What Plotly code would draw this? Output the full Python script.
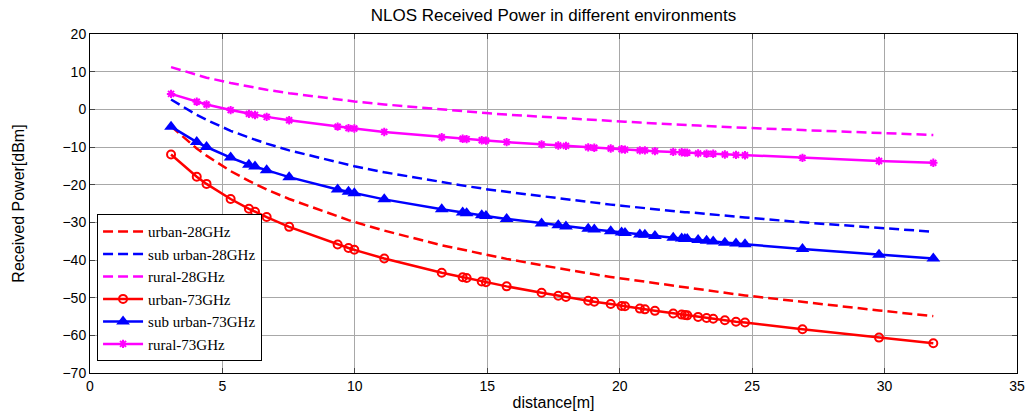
import plotly.graph_objects as go

distance = [3.06, 4.03, 4.40, 5.31, 6.0, 6.23, 6.67, 7.52, 9.35, 9.76, 9.98, 11.11,
            13.28, 14.07, 14.22, 14.79, 14.95, 15.73, 17.05, 17.68, 17.97, 18.81, 19.04,
            19.66, 20.07, 20.2, 20.76, 20.95, 21.33, 22.02, 22.34, 22.46, 22.55, 22.96,
            23.28, 23.53, 23.97, 24.39, 24.73, 26.9, 29.79, 31.84]

urban_28 = [-4.5, -10.4, -12.3, -16.4, -19.0, -19.8, -21.3, -23.8, -28.5, -29.4, -29.9, -32.2,
            -36.1, -37.3, -37.5, -38.4, -38.6, -39.7, -41.4, -42.2, -42.6, -43.5, -43.8,
            -44.5, -44.9, -45.1, -45.7, -45.9, -46.2, -46.9, -47.2, -47.4, -47.4, -47.8,
            -48.1, -48.4, -48.8, -49.1, -49.4, -51.2, -53.4, -54.9]

suburban_28 = [2.6, -1.5, -2.8, -5.7, -7.5, -8.1, -9.1, -10.9, -14.1, -14.8, -15.1, -16.7,
               -19.4, -20.3, -20.4, -21.0, -21.2, -21.9, -23.1, -23.7, -23.9, -24.6, -24.8,
               -25.3, -25.6, -25.7, -26.1, -26.2, -26.5, -27.0, -27.2, -27.3, -27.3, -27.6,
               -27.8, -28.0, -28.2, -28.5, -28.7, -30.0, -31.5, -32.5]

rural_28 = [11.2, 9.1, 8.4, 7.0, 6.0, 5.7, 5.2, 4.3, 2.6, 2.3, 2.1, 1.3,
            -0.1, -0.5, -0.6, -0.9, -1.0, -1.4, -2.0, -2.3, -2.4, -2.8, -2.9,
            -3.1, -3.3, -3.3, -3.5, -3.6, -3.7, -4.0, -4.1, -4.1, -4.2, -4.3,
            -4.4, -4.5, -4.6, -4.8, -4.9, -5.5, -6.3, -6.8]

urban_73 = [-12.0, -17.9, -19.8, -23.8, -26.4, -27.2, -28.6, -31.2, -35.9, -36.8, -37.3, -39.6,
            -43.4, -44.6, -44.8, -45.7, -45.9, -47.0, -48.7, -49.5, -49.8, -50.8, -51.1,
            -51.7, -52.2, -52.3, -52.9, -53.1, -53.5, -54.2, -54.5, -54.6, -54.7, -55.1,
            -55.4, -55.6, -56.0, -56.4, -56.6, -58.4, -60.6, -62.1]

suburban_73 = [-4.6, -8.7, -10.0, -12.8, -14.7, -15.2, -16.2, -18.0, -21.3, -21.9, -22.3, -23.9,
               -26.5, -27.4, -27.6, -28.1, -28.3, -29.1, -30.3, -30.8, -31.1, -31.7, -31.9,
               -32.4, -32.7, -32.8, -33.2, -33.3, -33.6, -34.1, -34.3, -34.4, -34.4, -34.7,
               -34.9, -35.1, -35.4, -35.6, -35.8, -37.1, -38.6, -39.6]

rural_73 = [4.1, 2.0, 1.3, -0.2, -1.2, -1.5, -2.0, -2.9, -4.6, -5.0, -5.1, -6.0,
            -7.4, -7.8, -7.9, -8.2, -8.3, -8.7, -9.3, -9.6, -9.7, -10.1, -10.2,
            -10.4, -10.6, -10.7, -10.9, -10.9, -11.1, -11.3, -11.4, -11.5, -11.5, -11.7,
            -11.8, -11.8, -12.0, -12.1, -12.2, -12.9, -13.7, -14.2]

x_ticks = [0, 5, 10, 15, 20, 25, 30, 35]
y_ticks = [20, 10, 0, -10, -20, -30, -40, -50, -60, -70]

RED, BLUE, MAG = "#ff0000", "#0000ff", "#ff00ff"
DASH = "10px,5px"

fig = go.Figure()
fig.add_trace(go.Scatter(x=distance, y=urban_28, mode="lines", name="urban-28GHz",
                         line=dict(color=RED, width=2.5, dash=DASH)))
fig.add_trace(go.Scatter(x=distance, y=suburban_28, mode="lines", name="sub urban-28GHz",
                         line=dict(color=BLUE, width=2.5, dash=DASH)))
fig.add_trace(go.Scatter(x=distance, y=rural_28, mode="lines", name="rural-28GHz",
                         line=dict(color=MAG, width=2.5, dash=DASH)))
fig.add_trace(go.Scatter(x=distance, y=urban_73, mode="lines+markers", name="urban-73GHz",
                         line=dict(color=RED, width=2.5),
                         marker=dict(symbol="circle-open", size=8, color=RED,
                                     line=dict(width=2, color=RED))))
fig.add_trace(go.Scatter(x=distance, y=suburban_73, mode="lines+markers", name="sub urban-73GHz",
                         line=dict(color=BLUE, width=2.5),
                         marker=dict(symbol="triangle-up", size=12, color=BLUE)))
fig.add_trace(go.Scatter(x=distance, y=rural_73, mode="lines+markers", name="rural-73GHz",
                         line=dict(color=MAG, width=2.5),
                         marker=dict(symbol="asterisk-open", size=7, color=MAG,
                                     line=dict(width=2, color=MAG))))

axis_font = dict(family="Liberation Sans Narrow, Liberation Sans, Arial", size=14, color="black")

fig.update_layout(
    width=1026, height=420,
    margin=dict(l=90, r=9, t=34, b=47, autoexpand=False),
    paper_bgcolor="white", plot_bgcolor="white",
    title=dict(text="NLOS Received Power in different environments",
               x=0.5, xref="paper", xanchor="center", y=0.963, yanchor="middle",
               font=dict(family="Liberation Sans, Arial", size=17, color="black")),
    showlegend=True,
    legend=dict(x=0.0076, y=0.035, xanchor="left", yanchor="bottom",
                bgcolor="white", bordercolor="black", borderwidth=1,
                font=dict(family="Liberation Serif, Times New Roman", size=15, color="black"),
                itemwidth=40, tracegroupgap=0),
    xaxis=dict(range=[0, 35], tickvals=x_ticks, ticks="inside", ticklen=5,
               showline=True, linecolor="black", linewidth=1, mirror="allticks",
               showgrid=True, gridcolor="#a8a8a8", gridwidth=1, zeroline=False,
               tickfont=axis_font, automargin=False,
               title=dict(text="distance[m]", font=dict(family="Liberation Sans Narrow, Liberation Sans, Arial", size=16, color="black"), standoff=4)),
    yaxis=dict(range=[-70, 20], tickvals=y_ticks, ticks="inside", ticklen=5,
               showline=True, linecolor="black", linewidth=1, mirror="allticks",
               showgrid=True, gridcolor="#a8a8a8", gridwidth=1, zeroline=False,
               tickfont=axis_font, automargin=False,
               title=dict(text="Received Power[dBm]", font=dict(family="Liberation Sans, Arial", size=16, color="black"), standoff=33)),
)

fig.write_html("out.html", post_script="document.body.style.margin='0';",
               config={"displayModeBar": False})
